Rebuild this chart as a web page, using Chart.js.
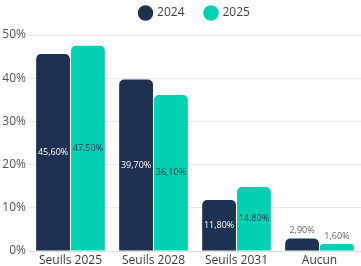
<!DOCTYPE html>
<html>
<head>
<meta charset="utf-8">
<script src="https://cdn.jsdelivr.net/npm/chart.js@4/dist/chart.umd.min.js"></script>
<style>
  html, body { margin: 0; padding: 0; background: #fff; }
  #wrap { width: 361px; height: 266px; }
</style>
</head>
<body>
<div id="wrap"><canvas id="myChart"></canvas></div>
<script>
var categories = ['Seuils 2025', 'Seuils 2028', 'Seuils 2031', 'Aucun'];
var values2024 = [45.6, 39.7, 11.8, 2.9];
var values2025 = [47.5, 36.1, 14.8, 1.6];
var seriesLabels = ['2024', '2025'];
var yTicks = [0, 10, 20, 30, 40, 50];

var navy = '#1f3150';
var teal = '#00d1b2';

// draws the value labels inside the bar, or above it when the bar is too short
var valueLabels = {
    id: 'valueLabels',
    afterDatasetsDraw: function (chart) {
        var ctx = chart.ctx;
        ctx.save();
        ctx.font = '9px "Open Sans", sans-serif';
        ctx.textAlign = 'center';
        ctx.textBaseline = 'middle';
        chart.data.datasets.forEach(function (ds, di) {
            var meta = chart.getDatasetMeta(di);
            meta.data.forEach(function (bar, i) {
                var v = ds.data[i];
                var txt = v.toFixed(2).replace('.', ',') + '%';
                var h = bar.base - bar.y;
                if (h > 25) {
                    ctx.fillStyle = di === 0 ? '#ffffff' : '#1f3150';
                    ctx.fillText(txt, bar.x, bar.y + h / 2);
                } else {
                    ctx.fillStyle = '#666666';
                    ctx.fillText(txt, bar.x, bar.y - 8);
                }
            });
        });
        ctx.restore();
    }
};

// legend gets a fixed height so the plot starts where the reference does
var legendHeight = {
    id: 'legendHeight',
    beforeInit: function (chart) {
        var fit = chart.legend.fit;
        chart.legend.fit = function () {
            fit.bind(chart.legend)();
            this.height = 49;
        };
    }
};

var ctx = document.getElementById('myChart');
var myChart = new Chart(ctx, {
    type: 'bar',
    data: {
        labels: categories,
        datasets: [{
            label: seriesLabels[0],
            data: values2024,
            backgroundColor: navy,
            borderRadius: { topLeft: 5, topRight: 5 },
            borderSkipped: 'bottom',
            barPercentage: 0.97,
            categoryPercentage: 0.84
        }, {
            label: seriesLabels[1],
            data: values2025,
            backgroundColor: teal,
            borderRadius: { topLeft: 5, topRight: 5 },
            borderSkipped: 'bottom',
            barPercentage: 0.97,
            categoryPercentage: 0.84
        }]
    },
    options: {
        responsive: true,
        maintainAspectRatio: false,
        animation: false,
        layout: { padding: { left: 0, right: -5, top: -14, bottom: 0 } },
        plugins: {
            legend: {
                position: 'top',
                fullSize: false,
                labels: {
                    usePointStyle: true,
                    pointStyle: 'circle',
                    boxWidth: 11,
                    boxHeight: 11,
                    padding: 21,
                    color: '#444',
                    font: { family: '"Open Sans", sans-serif', size: 12 }
                }
            },
            tooltip: { enabled: false }
        },
        scales: {
            x: {
                afterFit: function (axis) { axis.height = 15; },
                grid: { display: false, drawTicks: false },
                border: { color: '#dddddd' },
                ticks: {
                    color: '#3a3a3a',
                    padding: 2,
                    font: { family: '"Open Sans", sans-serif', size: 12 }
                }
            },
            y: {
                min: 0,
                max: 50,
                afterBuildTicks: function (axis) {
                    axis.ticks = yTicks.map(function (v) { return { value: v }; });
                },
                afterFit: function (axis) { axis.width = 29; },
                grid: { color: '#e8e8e8', drawTicks: false },
                border: { display: false },
                ticks: {
                    color: '#555',
                    padding: 3,
                    font: { family: '"Open Sans", sans-serif', size: 12 },
                    callback: function (v) { return v + '%'; }
                }
            }
        }
    },
    plugins: [valueLabels, legendHeight]
});
</script>
</body>
</html>
